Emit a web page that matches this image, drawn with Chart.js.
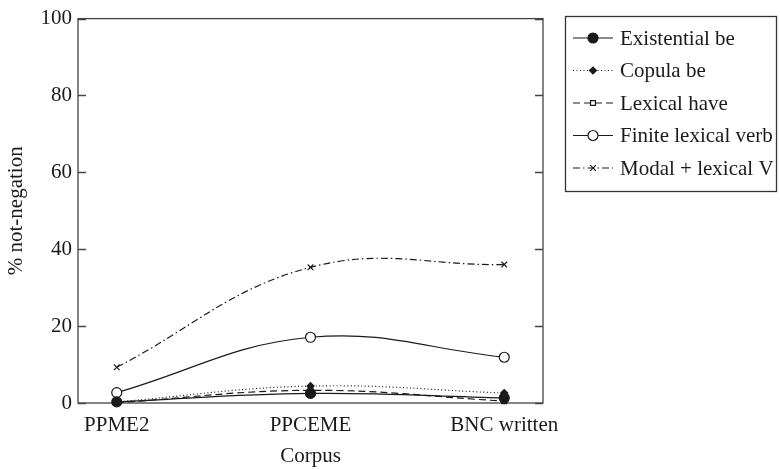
<!DOCTYPE html>
<html>
<head>
<meta charset="utf-8">
<script src="https://cdn.jsdelivr.net/npm/chart.js@4/dist/chart.umd.min.js"></script>
<style>
  html, body { margin: 0; padding: 0; background: #fff; }
  #wrap { width: 780px; height: 469px; }
</style>
</head>
<body>
<div id="wrap"><canvas id="myChart" width="780" height="469"></canvas></div>
<script>
// Corpora on the x axis
const corpora = ['PPME2', 'PPCEME', 'BNC written'];

// % not-negation per construction
const existentialBe = [0.3, 2.5, 1.3];
const copulaBe = [0.3, 4.4, 2.6];
const lexicalHave = [0.1, 3.3, 0.5];
const finiteLexicalVerb = [2.7, 17.1, 11.9];
const modalLexicalV = [9.3, 35.3, 36.0];

const yTicks = [0, 20, 40, 60, 80, 100];

const serif = 'Liberation Serif';
const ink = '#1a1a1a';

// index of the corpus becomes the x value
function toPoints(values) {
    return values.map((v, i) => ({ x: i, y: v }));
}

function series(label, values, style) {
    return Object.assign({
        label: label,
        data: toPoints(values),
        borderColor: ink,
        pointBorderColor: ink,
        borderWidth: 1.2,
        pointBorderWidth: 1.2,
        tension: 0.4,
        clip: false,
    }, style);
}

const datasets = [
    series('Existential be', existentialBe, {
        pointStyle: 'circle', pointRadius: 5, pointBackgroundColor: ink
    }),
    series('Copula be', copulaBe, {
        borderDash: [1, 2.5], pointStyle: 'rectRot', pointRadius: 3.5, pointBackgroundColor: ink
    }),
    series('Lexical have', lexicalHave, {
        borderDash: [7, 4], pointStyle: 'rect', pointRadius: 3.5, pointBackgroundColor: 'rgba(0,0,0,0)'
    }),
    series('Finite lexical verb', finiteLexicalVerb, {
        pointStyle: 'circle', pointRadius: 5, pointBackgroundColor: '#fff'
    }),
    series('Modal + lexical V', modalLexicalV, {
        borderDash: [7, 3, 1.5, 3], pointStyle: 'crossRot', pointRadius: 4, pointBackgroundColor: ink
    }),
];

// box around the plot with short inward ticks
const frame = {
    id: 'frame',
    beforeDatasetsDraw(chart) {
        const { ctx, chartArea: a, scales } = chart;
        ctx.save();
        ctx.strokeStyle = '#444';
        ctx.lineWidth = 1.3;
        ctx.strokeRect(a.left, a.top, a.right - a.left, a.bottom - a.top);
        ctx.beginPath();
        scales.y.ticks.forEach(t => {
            const y = Math.round(scales.y.getPixelForValue(t.value)) + 0.5;
            ctx.moveTo(a.left, y); ctx.lineTo(a.left + 8, y);
            ctx.moveTo(a.right, y); ctx.lineTo(a.right - 8, y);
        });
        ctx.stroke();
        ctx.restore();
    }
};

// legend drawn with line sample and marker, boxed at the right
const boxLegend = {
    id: 'boxLegend',
    afterDraw(chart) {
        const { ctx } = chart;
        const x0 = 565, y0 = 16, w = 211, h = 175;
        ctx.save();
        ctx.strokeStyle = '#333';
        ctx.lineWidth = 1.3;
        ctx.strokeRect(x0 + 0.5, y0 + 0.5, w, h);
        chart.data.datasets.forEach((ds, i) => {
            const y = y0 + 22 + i * 32.5;
            ctx.strokeStyle = ds.borderColor;
            ctx.lineWidth = ds.borderWidth;
            ctx.setLineDash(ds.borderDash || []);
            ctx.beginPath();
            ctx.moveTo(573, y);
            ctx.lineTo(613, y);
            ctx.stroke();
            ctx.setLineDash([]);
            ctx.fillStyle = ds.pointBackgroundColor;
            ctx.strokeStyle = ds.pointBorderColor;
            ctx.lineWidth = ds.pointBorderWidth;
            Chart.helpers.drawPoint(ctx, {
                pointStyle: ds.pointStyle,
                radius: ds.pointRadius,
                borderWidth: ds.pointBorderWidth,
                rotation: 0
            }, 593, y);
            ctx.fillStyle = ink;
            ctx.font = '21px "' + serif + '"';
            ctx.textBaseline = 'middle';
            ctx.fillText(ds.label, 620, y + 1);
        });
        ctx.restore();
    }
};

const config = {
    type: 'line',
    data: { datasets: datasets },
    options: {
        responsive: false,
        animation: false,
        layout: { padding: { top: 15, right: 237, left: 0, bottom: 0 } },
        plugins: {
            legend: { display: false },
            tooltip: { enabled: false },
        },
        scales: {
            x: {
                type: 'linear',
                min: -0.2,
                max: 2.2,
                grid: { display: false, drawTicks: false },
                border: { display: false },
                ticks: {
                    stepSize: 1,
                    includeBounds: false,
                    autoSkip: false,
                    maxRotation: 0,
                    padding: 10,
                    color: ink,
                    font: { family: serif, size: 21 },
                    callback: v => corpora[v] ?? ''
                },
                title: {
                    display: true,
                    text: 'Corpus',
                    color: ink,
                    font: { family: serif, size: 21 },
                    padding: { top: 0, bottom: 0 }
                },
                afterFit(scale) { scale.height = 66; }
            },
            y: {
                min: 0,
                max: 100,
                grid: { display: false, drawTicks: false },
                border: { display: false },
                afterBuildTicks(scale) { scale.ticks = yTicks.map(v => ({ value: v })); },
                ticks: {
                    padding: 6,
                    color: ink,
                    font: { family: serif, size: 21 }
                },
                title: {
                    display: true,
                    text: '% not-negation',
                    color: ink,
                    font: { family: serif, size: 21 },
                    padding: { top: 4, bottom: 0 }
                },
                afterFit(scale) { scale.width = 78; }
            }
        }
    },
    plugins: [frame, boxLegend]
};

new Chart(document.getElementById('myChart').getContext('2d'), config);
</script>
</body>
</html>
